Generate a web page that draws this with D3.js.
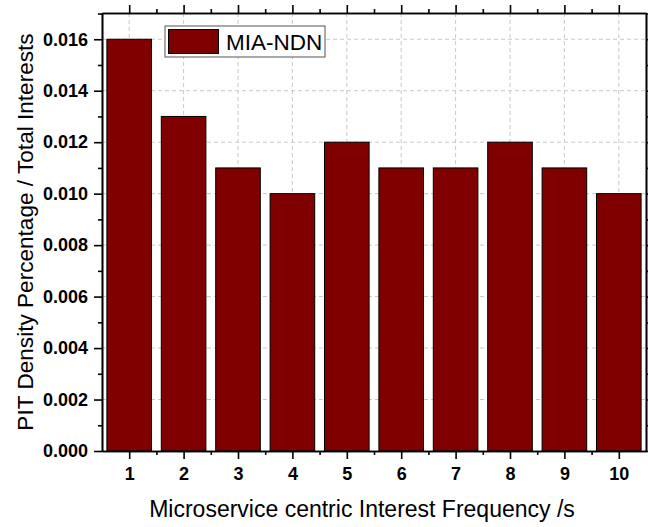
<!DOCTYPE html>
<html>
<head>
<meta charset="utf-8">
<script src="https://cdn.jsdelivr.net/npm/d3@7"></script>
<style>
  html, body { margin: 0; padding: 0; background: #fff; }
  svg { display: block; }
</style>
</head>
<body>
<script>
// Interest frequency categories and PIT density values
const categories = [1, 2, 3, 4, 5, 6, 7, 8, 9, 10];
const pitDensity = [0.016, 0.013, 0.011, 0.010, 0.012, 0.011, 0.011, 0.012, 0.011, 0.010];
const seriesName = "MIA-NDN";
const yMajorTicks = [0, 0.002, 0.004, 0.006, 0.008, 0.010, 0.012, 0.014, 0.016];
const yMinorTicks = [0.001, 0.003, 0.005, 0.007, 0.009, 0.011, 0.013, 0.015, 0.017];
const xMinorTicks = [1.5, 2.5, 3.5, 4.5, 5.5, 6.5, 7.5, 8.5, 9.5];

const W = 648, H = 527;
const m = { left: 102, right: 2, top: 13, bottom: 76 };
const pw = W - m.left - m.right, ph = H - m.top - m.bottom;

const svg = d3.select("body").append("svg").attr("width", W).attr("height", H);
const g = svg.append("g").attr("transform", `translate(${m.left},${m.top})`);

const x = d3.scaleLinear().domain([0.5, 10.5]).range([0, pw]);
const y = d3.scaleLinear().domain([0, 0.01702]).range([ph, 0]);
const barW = (x(1) - x(0)) * 0.82;

// dashed grid
g.append("g").selectAll("line").data(yMajorTicks.filter(d => d > 0)).join("line")
  .attr("x1", 0).attr("x2", pw).attr("y1", d => y(d)).attr("y2", d => y(d))
  .attr("stroke", "#c8c8c8").attr("stroke-width", 1).attr("stroke-dasharray", "4,3");
g.append("g").selectAll("line").data(categories).join("line")
  .attr("y1", 0).attr("y2", ph).attr("x1", d => x(d)).attr("x2", d => x(d))
  .attr("stroke", "#c8c8c8").attr("stroke-width", 1).attr("stroke-dasharray", "4,3");

// bars
g.append("g").selectAll("rect").data(categories).join("rect")
  .attr("x", d => x(d) - barW / 2)
  .attr("width", barW)
  .attr("y", (d, i) => y(pitDensity[i]))
  .attr("height", (d, i) => ph - y(pitDensity[i]))
  .attr("fill", "#800000").attr("stroke", "#000").attr("stroke-width", 1);

// axes
const tickFont = "bold 18px Arial, 'Liberation Sans', sans-serif";
const fmt = d3.format(".3f");

function styleAxis(sel) {
  sel.select(".domain").attr("stroke", "#000").attr("stroke-width", 1.6);
  sel.selectAll(".tick line").attr("stroke", "#000").attr("stroke-width", 1.6);
}

const xAxis = g.append("g").attr("transform", `translate(0,${ph})`)
  .call(d3.axisBottom(x).tickValues(categories).tickFormat(d3.format("d")).tickSizeInner(8).tickSizeOuter(0).tickPadding(8));
xAxis.call(styleAxis);
xAxis.selectAll("text").style("font", tickFont).attr("fill", "#000");
g.append("g").attr("transform", `translate(0,${ph})`)
  .call(d3.axisBottom(x).tickValues(xMinorTicks).tickFormat("").tickSizeInner(4).tickSizeOuter(0))
  .call(styleAxis);

const yAxis = g.append("g")
  .call(d3.axisLeft(y).tickValues(yMajorTicks).tickFormat(fmt).tickSizeInner(8).tickSizeOuter(0).tickPadding(6));
yAxis.call(styleAxis);
yAxis.selectAll("text").style("font", tickFont).attr("fill", "#000");
g.append("g")
  .call(d3.axisLeft(y).tickValues(yMinorTicks).tickFormat("").tickSizeInner(4).tickSizeOuter(0))
  .call(styleAxis);

// top and right frame axes
g.append("g")
  .call(d3.axisTop(x).tickValues(categories).tickFormat("").tickSizeInner(8).tickSizeOuter(0))
  .call(styleAxis);
g.append("g")
  .call(d3.axisTop(x).tickValues(xMinorTicks).tickFormat("").tickSizeInner(4).tickSizeOuter(0))
  .call(styleAxis);
g.append("g").attr("transform", `translate(${pw},0)`)
  .call(d3.axisRight(y).tickValues(yMajorTicks).tickFormat("").tickSizeInner(8).tickSizeOuter(0))
  .call(styleAxis);
g.append("g").attr("transform", `translate(${pw},0)`)
  .call(d3.axisRight(y).tickValues(yMinorTicks).tickFormat("").tickSizeInner(4).tickSizeOuter(0))
  .call(styleAxis);

// axis titles
svg.append("text")
  .attr("x", 362).attr("y", 517)
  .attr("text-anchor", "middle").style("font", "23px Arial, 'Liberation Sans', sans-serif").attr("fill", "#000")
  .text("Microservice centric Interest Frequency /s");
svg.append("text")
  .attr("transform", `translate(33,232) rotate(-90)`)
  .attr("text-anchor", "middle").style("font", "22.6px Arial, 'Liberation Sans', sans-serif").attr("fill", "#000")
  .text("PIT Density Percentage / Total Interests");

// legend
const leg = svg.append("g");
leg.append("rect").attr("x", 165).attr("y", 26).attr("width", 160).attr("height", 31)
  .attr("fill", "#fff").attr("stroke", "#555").attr("stroke-width", 1);
leg.append("rect").attr("x", 168.5).attr("y", 29.5).attr("width", 50).attr("height", 24)
  .attr("fill", "#800000").attr("stroke", "#000").attr("stroke-width", 1);
leg.append("text").attr("x", 226).attr("y", 50)
  .style("font", "22.5px Arial, 'Liberation Sans', sans-serif").attr("fill", "#000")
  .text(seriesName);
</script>
</body>
</html>
